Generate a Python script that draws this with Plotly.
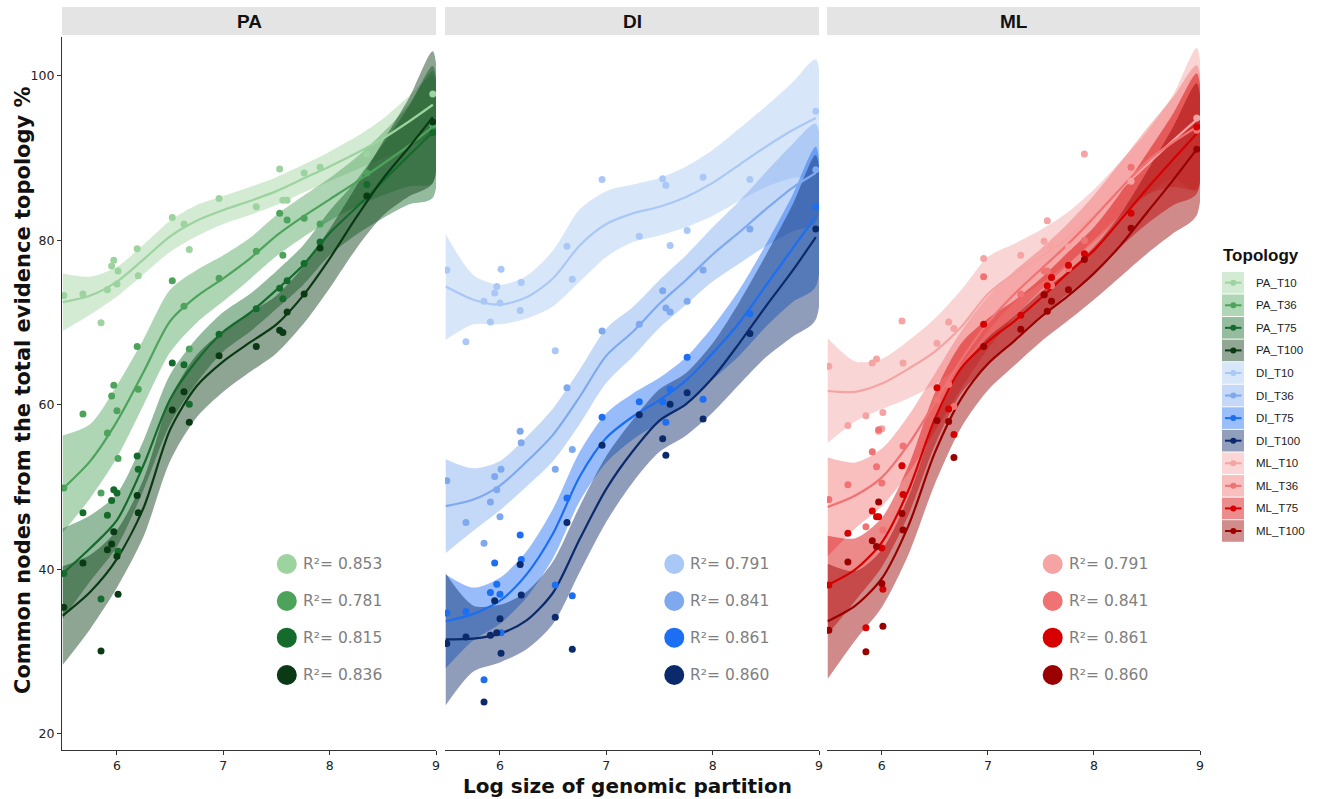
import plotly.graph_objects as go

W, H = 1320, 799

# ---------------- data ----------------
panels = ["PA", "DI", "ML"]
levels = ["T10", "T36", "T75", "T100"]

# log size of genomic partitions (shared by all panels)
X = [5.50, 5.68, 5.85, 5.91, 5.95, 5.97, 6.00, 6.01, 6.19, 6.20, 6.52,
     6.63, 6.68, 6.96, 7.31, 7.53, 7.56, 7.60, 7.76, 7.91, 8.35, 8.97]

PA_T10 = [73.3, 73.5, 70.0, 74.0, 76.9, 77.6, 74.7, 76.3, 79.0, 75.7, 82.8, 82.0, 78.9, 85.1, 84.1, 88.7, 84.9, 84.9, 88.2, 88.9, 90.5, 97.8]
PA_T36 = [49.9, 58.9, 49.3, 56.6, 61.1, 62.4, 59.3, 53.5, 67.1, 61.9, 75.1, 72.0, 66.8, 75.4, 78.7, 83.3, 78.2, 82.5, 82.7, 82.0, 88.2, 94.0]
PA_T75 = [39.5, 46.9, 36.4, 46.6, 48.4, 49.7, 49.3, 42.2, 53.8, 52.2, 65.1, 64.9, 60.1, 68.6, 71.7, 74.2, 72.9, 75.1, 77.2, 79.8, 86.8, 93.1]
PA_T100 = [35.4, 40.8, 30.1, 42.4, 43.1, 44.6, 41.6, 37.0, 49.0, 46.9, 59.4, 61.6, 57.9, 66.0, 67.1, 69.1, 68.8, 71.3, 73.5, 79.1, 85.4, 94.4]

DI_T10 = [76.4, 67.7, 72.6, 70.1, 73.6, 74.4, 72.4, 76.5, 71.5, 74.9, 66.6, 79.3, 75.3, 87.4, 80.5, 87.5, 86.7, 79.4, 81.2, 87.7, 87.4, 95.7]
DI_T36 = [50.8, 45.7, 43.2, 48.2, 51.3, 49.7, 46.4, 52.2, 56.8, 55.4, 52.2, 62.1, 54.6, 69.0, 69.8, 73.9, 71.8, 71.3, 72.6, 76.4, 81.4, 88.6]
DI_T75 = [34.7, 34.9, 26.6, 37.2, 40.8, 38.2, 37.0, 32.3, 44.2, 41.2, 38.1, 48.7, 36.8, 58.5, 60.4, 60.4, 57.9, 61.9, 65.8, 60.7, 71.1, 84.1]
DI_T100 = [31.0, 31.8, 23.9, 32.0, 36.2, 32.3, 34.0, 29.8, 40.6, 36.9, 34.2, 45.7, 30.3, 55.1, 58.8, 55.9, 53.9, 60.1, 61.5, 58.3, 68.7, 81.4]

ML_T10 = [64.7, 57.5, 58.7, 65.1, 65.6, 56.8, 57.1, 59.1, 70.2, 65.1, 67.5, 70.1, 69.3, 77.8, 78.2, 79.9, 82.4, 79.3, 79.2, 90.5, 87.2, 94.9]
ML_T36 = [48.5, 50.3, 45.2, 54.3, 52.5, 57.0, 50.5, 44.8, 52.6, 55.0, 60.6, 62.5, 59.8, 75.6, 73.5, 76.3, 76.3, 74.5, 76.6, 80.0, 88.9, 93.4]
ML_T75 = [38.1, 44.4, 32.9, 47.1, 46.4, 46.4, 42.6, 37.6, 52.6, 49.1, 62.1, 59.5, 56.4, 69.8, 70.9, 73.4, 74.5, 75.5, 77.0, 78.4, 83.3, 93.8]
ML_T100 = [32.6, 40.9, 30.0, 43.5, 42.8, 48.2, 38.3, 33.1, 46.8, 44.8, 58.1, 58.0, 53.6, 67.1, 69.2, 73.4, 71.4, 72.6, 74.0, 77.7, 81.5, 91.1]

# smoothed fits and confidence bands
FX = [5.49, 5.75, 6.0, 6.25, 6.5, 6.75, 7.0, 7.25, 7.5, 7.75, 8.0, 8.25, 8.5, 8.75, 8.97]

PA_T10_fit = [72.5, 73.3, 75.0, 77.7, 80.5, 82.4, 83.7, 84.8, 86.0, 87.5, 89.0, 90.6, 92.4, 94.5, 96.5]
PA_T10_lo = [69.0, 71.0, 73.2, 75.9, 78.6, 80.5, 82.0, 83.1, 84.3, 85.8, 87.2, 88.6, 90.0, 91.4, 93.0]
PA_T10_hi = [76.0, 75.6, 76.8, 79.5, 82.4, 84.3, 85.4, 86.5, 87.7, 89.2, 90.8, 92.6, 94.8, 97.6, 100.0]
PA_T36_fit = [49.8, 53.2, 58.0, 64.0, 70.2, 73.2, 75.4, 77.8, 80.6, 82.9, 85.0, 87.1, 89.3, 91.6, 93.8]
PA_T36_lo = [44.5, 48.7, 53.6, 60.0, 66.4, 70.0, 72.6, 75.3, 78.1, 80.4, 82.4, 84.1, 85.5, 86.6, 87.0]
PA_T36_hi = [56.3, 57.7, 62.4, 68.0, 74.0, 76.4, 78.2, 80.3, 83.1, 85.4, 87.6, 90.1, 93.1, 96.6, 100.6]
PA_T75_fit = [39.5, 42.6, 46.0, 52.7, 60.7, 65.4, 68.9, 71.2, 74.0, 77.0, 80.9, 84.0, 87.2, 90.4, 93.2]
PA_T75_lo = [34.0, 38.6, 42.8, 49.7, 57.7, 62.7, 66.5, 68.9, 71.7, 74.6, 78.2, 80.7, 82.7, 84.4, 85.2]
PA_T75_hi = [45.0, 46.6, 49.2, 55.7, 63.7, 68.1, 71.3, 73.5, 76.3, 79.4, 83.6, 87.3, 91.7, 96.4, 101.2]
PA_T100_fit = [34.4, 37.3, 41.3, 47.5, 57.0, 62.3, 65.3, 67.6, 69.8, 73.3, 77.8, 82.8, 87.5, 91.4, 95.0]
PA_T100_lo = [28.4, 32.8, 37.8, 44.0, 53.2, 58.5, 61.6, 64.0, 66.3, 69.8, 74.2, 79.0, 83.0, 85.4, 87.0]
PA_T100_hi = [40.4, 41.8, 44.8, 51.0, 60.8, 66.1, 69.0, 71.2, 73.3, 76.8, 81.4, 86.6, 92.0, 97.4, 103.0]

DI_T10_fit = [74.4, 72.8, 72.2, 73.1, 75.4, 79.4, 82.0, 83.3, 84.1, 85.3, 87.0, 89.2, 91.4, 93.4, 94.9]
DI_T10_lo = [67.9, 69.8, 69.8, 70.5, 72.0, 75.0, 78.0, 79.8, 80.6, 81.6, 83.0, 84.8, 86.5, 87.6, 88.0]
DI_T10_hi = [80.8, 75.8, 74.6, 75.7, 78.8, 83.8, 86.0, 86.8, 87.6, 89.0, 91.0, 93.6, 96.3, 99.2, 102.0]
DI_T36_fit = [47.7, 48.5, 50.2, 53.1, 56.4, 61.0, 66.0, 68.9, 72.3, 75.2, 78.3, 81.0, 83.8, 86.4, 88.2]
DI_T36_lo = [42.0, 44.7, 47.2, 50.1, 53.2, 57.7, 62.7, 65.9, 69.4, 72.2, 75.0, 77.2, 79.3, 81.1, 82.2]
DI_T36_hi = [53.4, 52.3, 53.2, 56.1, 59.6, 64.3, 69.3, 71.9, 75.2, 78.2, 81.6, 84.8, 88.3, 91.7, 94.2]
DI_T75_fit = [33.7, 34.6, 36.2, 39.4, 44.4, 51.3, 56.0, 58.6, 60.6, 63.0, 66.3, 70.0, 74.5, 79.0, 82.9]
DI_T75_lo = [28.0, 31.4, 33.4, 36.6, 41.4, 48.3, 53.0, 55.8, 57.9, 60.2, 63.1, 66.0, 69.5, 72.5, 74.4]
DI_T75_hi = [39.4, 37.8, 39.0, 42.2, 47.4, 54.3, 59.0, 61.4, 63.3, 65.8, 69.5, 74.0, 79.5, 85.5, 91.4]
DI_T100_fit = [31.5, 31.6, 32.2, 33.8, 37.2, 43.7, 49.8, 54.4, 58.1, 60.1, 63.3, 67.5, 72.0, 76.3, 80.4]
DI_T100_lo = [23.5, 27.6, 28.7, 30.3, 33.4, 39.7, 45.8, 50.6, 54.3, 56.3, 59.1, 62.5, 65.8, 68.3, 70.4]
DI_T100_hi = [39.5, 35.6, 35.7, 37.3, 41.0, 47.7, 53.8, 58.2, 61.9, 63.9, 67.5, 72.5, 78.2, 84.3, 90.4]

ML_T10_fit = [61.7, 61.6, 62.6, 64.4, 66.5, 69.5, 73.5, 76.0, 78.0, 80.3, 83.0, 86.2, 89.2, 92.2, 94.7]
ML_T10_lo = [55.4, 58.0, 59.5, 60.8, 62.5, 65.0, 69.0, 72.5, 74.8, 77.2, 79.8, 82.8, 85.5, 87.5, 86.0]
ML_T10_hi = [68.1, 65.3, 65.6, 67.8, 70.5, 74.0, 78.0, 79.6, 81.3, 83.4, 86.2, 89.6, 93.2, 97.8, 103.4]
ML_T36_fit = [47.6, 49.0, 51.2, 55.2, 60.3, 65.5, 70.0, 73.5, 76.5, 79.5, 82.8, 86.3, 89.6, 92.0, 93.8]
ML_T36_lo = [41.6, 45.0, 47.7, 51.7, 56.8, 62.0, 66.8, 70.7, 74.0, 77.0, 80.1, 83.1, 85.6, 86.5, 86.3]
ML_T36_hi = [53.6, 53.0, 54.7, 58.7, 63.8, 69.0, 73.2, 76.3, 79.0, 82.0, 85.5, 89.5, 93.6, 97.5, 101.3]
ML_T75_fit = [38.1, 40.0, 43.3, 49.6, 58.3, 64.5, 67.7, 70.2, 73.0, 76.0, 78.8, 82.5, 86.3, 89.9, 93.0]
ML_T75_lo = [32.1, 36.2, 40.3, 46.6, 55.1, 61.5, 64.9, 67.7, 70.6, 73.5, 76.0, 79.2, 82.0, 84.3, 85.7]
ML_T75_hi = [44.1, 43.8, 46.3, 52.6, 61.5, 67.5, 70.5, 72.7, 75.4, 78.5, 81.6, 85.8, 90.6, 95.5, 100.3]
ML_T100_fit = [33.7, 35.6, 38.9, 45.3, 54.2, 60.8, 65.0, 67.8, 70.7, 73.2, 76.0, 79.4, 83.4, 87.4, 91.1]
ML_T100_lo = [26.7, 31.4, 35.4, 41.8, 50.4, 57.3, 61.8, 64.8, 67.7, 70.2, 72.8, 75.6, 78.4, 80.9, 83.1]
ML_T100_hi = [40.7, 39.8, 42.4, 48.8, 58.0, 64.3, 68.2, 70.8, 73.7, 76.2, 79.2, 83.2, 88.4, 93.9, 99.1]

R2_PA = ["0.853", "0.781", "0.815", "0.836"]
R2_DI = ["0.791", "0.841", "0.861", "0.860"]
R2_ML = ["0.791", "0.841", "0.861", "0.860"]

X_TICKS = [6, 7, 8, 9]
Y_TICKS = [20, 40, 60, 80, 100]

COLORS = {
    "PA": ["#9dd39e", "#4ea35c", "#156b2b", "#0a3a14"],
    "DI": ["#a9c8f5", "#7ea9ef", "#1c6ef2", "#0b2a6b"],
    "ML": ["#f5a3a3", "#f17272", "#d60000", "#990000"],
}

G = globals()

# ---------------- figure ----------------
def rgba(h, a):
    h = h.lstrip("#")
    return "rgba(%d,%d,%d,%.3f)" % (int(h[0:2], 16), int(h[2:4], 16), int(h[4:6], 16), a)

BAND_A = 0.46
fig = go.Figure()
axn = ["", "2", "3"]
for pi, p in enumerate(panels):
    xa, ya = "x" + axn[pi], "y" + axn[pi]
    for li, lv in enumerate(levels):
        c = COLORS[p][li]
        lo = G[f"{p}_{lv}_lo"]; hi = G[f"{p}_{lv}_hi"]
        fig.add_trace(go.Scatter(
            x=FX + FX[::-1], y=hi + lo[::-1], fill="toself", fillcolor=rgba(c, BAND_A),
            line=dict(width=0, shape="spline", smoothing=0.8), mode="lines",
            xaxis=xa, yaxis=ya, hoverinfo="skip", showlegend=False))
    for li, lv in enumerate(levels):
        c = COLORS[p][li]
        fig.add_trace(go.Scatter(
            x=FX, y=G[f"{p}_{lv}_fit"], mode="lines",
            line=dict(color=c, width=2.2, shape="spline", smoothing=0.8),
            xaxis=xa, yaxis=ya, hoverinfo="skip", showlegend=False))
    for li, lv in enumerate(levels):
        c = COLORS[p][li]
        fig.add_trace(go.Scatter(
            x=X, y=G[f"{p}_{lv}"], mode="markers",
            marker=dict(color=c, size=7, line=dict(width=0)),
            xaxis=xa, yaxis=ya, hoverinfo="skip", showlegend=False))

# R^2 keys inside each panel
R2_CIRCLE_X = {"PA": 7.597, "DI": 7.639, "ML": 7.611}
R2_TEXT_X = {"PA": 7.730, "DI": 7.771, "ML": 7.746}
R2_ROW_Y = [40.67, 36.17, 31.71, 27.17]
annotations = []
for pi, p in enumerate(panels):
    xa, ya = "x" + axn[pi], "y" + axn[pi]
    fig.add_trace(go.Scatter(
        x=[R2_CIRCLE_X[p]] * 4, y=R2_ROW_Y, mode="markers",
        marker=dict(color=COLORS[p], size=20, line=dict(width=0)),
        xaxis=xa, yaxis=ya, hoverinfo="skip", showlegend=False))
    for k, v in enumerate(G[f"R2_{p}"]):
        annotations.append(dict(
            x=R2_TEXT_X[p], y=R2_ROW_Y[k], xref=xa, yref=ya, text="R²= " + v,
            showarrow=False, xanchor="left", yanchor="middle",
            font=dict(family="DejaVu Sans", size=15.5, color="#7f7f7f")))

# layout geometry (pixels -> paper)
def px(x):
    return x / W

def py(y):
    return 1 - y / H

PANEL_PX = [(62, 436), (445, 819), (827, 1200)]
Y_DOM = [py(750), py(37)]
X_RANGE = [5.483, 9.0]
Y_RANGE = [18.05, 104.74]

tickfont = dict(family="DejaVu Sans", size=12.5, color="#222222")
layout = dict(
    width=W, height=H, margin=dict(l=0, r=0, t=0, b=0),
    paper_bgcolor="white", plot_bgcolor="white", showlegend=False,
)
for pi in range(3):
    x0, x1 = PANEL_PX[pi]
    layout["xaxis" + axn[pi]] = dict(
        domain=[px(x0), px(x1)], range=X_RANGE, anchor="y" + axn[pi],
        showgrid=False, zeroline=False, showline=True, linecolor="#333333", linewidth=1.3,
        ticks="outside", ticklen=4, tickwidth=1.1, tickcolor="#333333",
        tickvals=X_TICKS, ticktext=[str(t) for t in X_TICKS], tickfont=tickfont,
        automargin=False, fixedrange=True)
    layout["yaxis" + axn[pi]] = dict(
        domain=Y_DOM, range=Y_RANGE, anchor="x" + axn[pi],
        showgrid=False, zeroline=False, showline=(pi == 0), linecolor="#333333", linewidth=1.3,
        ticks="outside" if pi == 0 else "", ticklen=4, tickwidth=1.1, tickcolor="#333333",
        tickvals=Y_TICKS, ticktext=[str(t) for t in Y_TICKS], tickfont=tickfont,
        showticklabels=(pi == 0), automargin=False, fixedrange=True)

shapes = []
# facet strips
for pi, p in enumerate(panels):
    x0, x1 = PANEL_PX[pi]
    shapes.append(dict(type="rect", xref="paper", yref="paper", x0=px(x0), x1=px(x1),
                       y0=py(35), y1=py(7), fillcolor="#e4e4e4", line=dict(width=0), layer="below"))
    annotations.append(dict(x=px((x0 + x1) / 2), y=py(21), xref="paper", yref="paper", text="<b>%s</b>" % p,
                            showarrow=False, xanchor="center", yanchor="middle",
                            font=dict(family="Liberation Sans", size=19, color="#111111")))

# custom legend
annotations.append(dict(x=px(1221), y=py(256), xref="paper", yref="paper", text="<b>Topology</b>",
                        showarrow=False, xanchor="left", yanchor="middle",
                        font=dict(family="Liberation Sans", size=17, color="#111111")))
k = 0
for p in panels:
    for li, lv in enumerate(levels):
        c = COLORS[p][li]
        cy = 282.7 + k * 22.57
        shapes.append(dict(type="rect", xref="paper", yref="paper", x0=px(1222), x1=px(1244),
                           y0=py(cy + 10.8), y1=py(cy - 10.8), fillcolor=rgba(c, 0.45), line=dict(width=0)))
        shapes.append(dict(type="line", xref="paper", yref="paper", x0=px(1225), x1=px(1241.5),
                           y0=py(cy), y1=py(cy), line=dict(color=c, width=2)))
        shapes.append(dict(type="circle", xref="paper", yref="paper", x0=px(1230.3), x1=px(1236.3),
                           y0=py(cy + 3), y1=py(cy - 3), fillcolor=c, line=dict(width=0)))
        annotations.append(dict(x=px(1254), y=py(cy), xref="paper", yref="paper", text=f"{p}_{lv}",
                                showarrow=False, xanchor="left", yanchor="middle",
                                font=dict(family="Liberation Sans", size=11.5, color="#222222")))
        k += 1

# axis titles
annotations.append(dict(x=px(627), y=py(786), xref="paper", yref="paper",
                        text="<b>Log size of genomic partition</b>", showarrow=False,
                        xanchor="center", yanchor="middle",
                        font=dict(family="DejaVu Sans", size=20, color="#111111")))
annotations.append(dict(x=px(23), y=py(390), xref="paper", yref="paper", textangle=-90,
                        text="<b>Common nodes from the total evidence topology %</b>", showarrow=False,
                        xanchor="center", yanchor="middle",
                        font=dict(family="DejaVu Sans", size=21, color="#111111")))

layout["shapes"] = shapes
layout["annotations"] = annotations
fig.update_layout(**layout)
fig.write_html("out.html")
